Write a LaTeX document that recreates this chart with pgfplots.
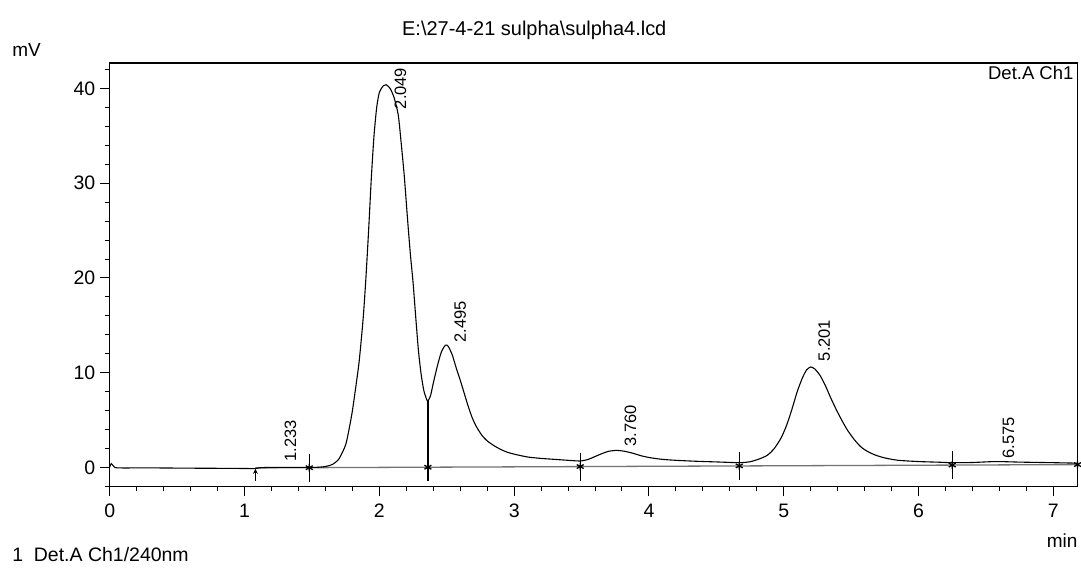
\documentclass[border=0pt]{standalone}
\usepackage{fontspec}
\setmainfont{Liberation Sans}
\usepackage{pgfplots}
\pgfplotsset{compat=1.18}
\usetikzlibrary{arrows.meta}
\begin{document}
\begin{tikzpicture}
\begin{axis}[
  scale only axis, width=969pt, height=424pt,
  xmin=0, xmax=7.18, ymin=-2, ymax=42.7,
  xtick={0,1,2,3,4,5,6,7}, ytick={0,10,20,30,40},
  minor xtick={0.2,0.4,0.6,0.8,1.2,1.4,1.6,1.8,2.2,2.4,2.6,2.8,3.2,3.4,3.6,3.8,4.2,4.4,4.6,4.8,5.2,5.4,5.6,5.8,6.2,6.4,6.6,6.8,7.2},
  minor ytick={-2,2,4,6,8,12,14,16,18,22,24,26,28,32,34,36,38,42},
  tick align=outside, xtick pos=bottom, ytick pos=left,
  major tick length=10pt, minor tick length=5pt,
  every tick/.style={black, line width=1pt},
  axis line style={line width=1.3pt},
  ticklabel style={font=\fontsize{19.5}{22}\selectfont},
  /pgf/number format/assume math mode=true,
  xticklabel style={yshift=-4pt},
  yticklabel style={xshift=-1pt},
  clip=false,
]
% baseline
\addplot[black!55, line width=1.3pt] coordinates {(1.08,-0.05) (7.18,0.30)};
% chromatogram
\addplot[black, line width=1.1pt, smooth, tension=0.4] coordinates {
(0,0.05) (0.01,0.4) (0.03,0.1) (0.06,-0.05) (0.3,-0.05) (0.6,-0.08) (0.9,-0.1) (1.08,-0.12) (1.12,-0.02) (1.3,0.0) (1.48,0.0) (1.55,0.02) (1.60,0.1)
(1.65,0.3) (1.70,0.9) (1.75,2.4) (1.78,4.4) (1.80,6.0) (1.82,8.0) (1.85,11.2) (1.88,15.8) (1.90,20.0) (1.92,25.0) (1.94,30.5) (1.96,35.0) (1.98,38.0) (2.00,39.6) (2.03,40.3) (2.05,40.4) (2.08,40.0) (2.11,39.0) (2.14,37.2) (2.16,34.5) (2.185,30.7) (2.21,26.0) (2.23,22.5) (2.25,19.5) (2.27,15.8) (2.29,12.3) (2.31,9.8) (2.33,8.1) (2.35,7.2) (2.36,7.0)
(2.38,7.6) (2.40,8.9) (2.43,10.7) (2.46,12.2) (2.49,12.9) (2.51,12.8) (2.54,11.9) (2.57,10.5) (2.60,9.2) (2.63,7.8) (2.66,6.4) (2.69,5.2) (2.72,4.3) (2.76,3.4) (2.80,2.8) (2.85,2.3) (2.90,1.9) (2.95,1.6) (3.00,1.4) (3.10,1.1) (3.20,0.95) (3.30,0.85) (3.40,0.75) (3.49,0.68)
(3.55,0.85) (3.60,1.15) (3.65,1.45) (3.70,1.7) (3.76,1.8) (3.82,1.7) (3.88,1.5) (3.95,1.2) (4.02,1.0) (4.10,0.85) (4.20,0.75) (4.35,0.65) (4.50,0.58) (4.67,0.5)
(4.75,0.6) (4.82,0.9) (4.88,1.3) (4.93,2.0) (4.98,3.1) (5.02,4.4) (5.06,6.1) (5.10,8.0) (5.14,9.5) (5.17,10.3) (5.20,10.6) (5.23,10.4) (5.27,9.7) (5.31,8.6) (5.35,7.3) (5.39,6.1) (5.43,5.0) (5.47,4.0) (5.52,3.0) (5.57,2.2) (5.62,1.7) (5.68,1.3) (5.75,1.0) (5.85,0.75) (6.00,0.62) (6.15,0.55) (6.25,0.5)
(6.40,0.52) (6.575,0.62) (6.75,0.56) (7.00,0.5) (7.18,0.45)
};
% valley drop line
\addplot[black, line width=1.4pt] coordinates {(2.36,-1.4) (2.36,7.0)};
% integration markers
\addplot[only marks, mark=|, mark size=14pt, line width=1pt, black] coordinates {(1.48,-0.03) (2.36,0.02) (3.49,0.09) (4.67,0.16) (6.25,0.25)};
\addplot[only marks, mark=asterisk, mark size=4pt, line width=1.3pt, black] coordinates {(1.48,-0.03) (2.36,0.02) (3.49,0.09) (4.67,0.16) (6.25,0.25) (7.18,0.30)};
\addplot[only marks, mark=|, mark size=7pt, line width=1pt, black] coordinates {(7.18,0.30)};
\addplot[black, line width=0.9pt, -{Stealth[length=5pt,width=5pt]}] coordinates {(1.08,-1.4) (1.08,-0.15)};
% peak labels
\begin{scope}[every node/.style={rotate=90, anchor=west, inner sep=0pt, font=\fontsize{16.5}{18}\selectfont}]
\node at (axis cs:1.341,0.63) {1.233};
\node at (axis cs:2.156,37.8) {2.049};
\node at (axis cs:2.60,13.2) {2.495};
\node at (axis cs:3.863,2.2) {3.760};
\node at (axis cs:5.30,11.2) {5.201};
\node at (axis cs:6.667,0.95) {6.575};
\end{scope}
% texts
\node[anchor=east, inner sep=0pt, font=\fontsize{18.5}{20}\selectfont] at (axis description cs:0.9959,0.976) {Det.A Ch1};
\node[anchor=west, inner sep=0pt, font=\fontsize{19}{20}\selectfont] at (axis description cs:-0.101,1.031) {mV};
\node[anchor=east, inner sep=0pt, font=\fontsize{19}{20}\selectfont] at (axis description cs:1.0,-0.127) {min};
\node[anchor=center, inner sep=0pt, font=\fontsize{20}{22}\selectfont] at (axis description cs:0.4386,1.078) {E:\textbackslash 27-4-21 sulpha\textbackslash sulpha4.lcd};
\node[anchor=west, inner sep=0pt, font=\fontsize{19.5}{21}\selectfont] at (axis description cs:-0.101,-0.160) {1\ \ Det.A Ch1/240nm};
\path (axis description cs:-0.1135,1.1486) rectangle (axis description cs:1.0021,-0.2028);
\end{axis}
\end{tikzpicture}
\end{document}
